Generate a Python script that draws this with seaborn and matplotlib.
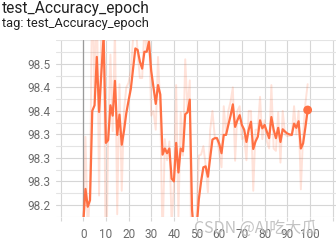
import numpy as np
import pandas as pd
import matplotlib
matplotlib.use("Agg")
import matplotlib.pyplot as plt
import seaborn as sns
from matplotlib.ticker import FixedLocator, FixedFormatter

# ---- data ----
epochs = list(range(100))
smoothed = [
    98.160, 98.234, 98.196, 98.210, 98.400, 98.412, 98.515, 98.398, 98.480, 98.560,
    98.332, 98.338, 98.412, 98.390, 98.464, 98.349, 98.392, 98.328, 98.358, 98.395,
    98.422, 98.447, 98.490, 98.533, 98.530, 98.505, 98.490, 98.526, 98.526, 98.547,
    98.485, 98.450, 98.415, 98.455, 98.435, 98.307, 98.320, 98.310, 98.320, 98.256,
    98.250, 98.332, 98.269, 98.320, 98.314, 98.393, 98.397, 98.424, 98.190, 98.130,
    98.150, 98.212, 98.250, 98.280, 98.282, 98.260, 98.300, 98.339, 98.342, 98.342,
    98.330, 98.310, 98.349, 98.349, 98.370, 98.390, 98.414, 98.366, 98.380, 98.391,
    98.370, 98.360, 98.334, 98.360, 98.377, 98.319, 98.335, 98.345, 98.380, 98.363,
    98.370, 98.356, 98.342, 98.387, 98.360, 98.342, 98.364, 98.334, 98.361, 98.356,
    98.352, 98.350, 98.349, 98.373, 98.364, 98.378, 98.320, 98.331, 98.365, 98.402,
]
raw = [
    98.160, 98.345, 98.139, 98.231, 98.685, 98.430, 98.670, 98.220, 98.600, 98.680,
    97.990, 98.347, 98.520, 98.357, 98.575, 98.180, 98.457, 98.230, 98.400, 98.450,
    98.460, 98.485, 98.555, 98.600, 98.525, 98.470, 98.470, 98.580, 98.526, 98.580,
    98.390, 98.400, 98.360, 98.515, 98.405, 98.115, 98.340, 98.295, 98.335, 98.160,
    98.240, 98.455, 98.175, 98.397, 98.305, 98.510, 98.403, 98.465, 97.840, 98.040,
    98.180, 98.305, 98.307, 98.325, 98.285, 98.227, 98.360, 98.400, 98.346, 98.342,
    98.312, 98.280, 98.410, 98.349, 98.400, 98.420, 98.450, 98.294, 98.400, 98.410,
    98.340, 98.345, 98.295, 98.400, 98.400, 98.230, 98.360, 98.360, 98.430, 98.340,
    98.380, 98.335, 98.320, 98.455, 98.320, 98.315, 98.397, 98.290, 98.400, 98.350,
    98.346, 98.347, 98.348, 98.410, 98.350, 98.400, 98.233, 98.350, 98.416, 98.457,
]
y_ticks = [98.20, 98.25, 98.30, 98.35, 98.40, 98.45, 98.50]
y_tick_labels = ["98.2", "98.3", "98.3", "98.3", "98.4", "98.4", "98.5"]
y_minor = [98.175, 98.225, 98.275, 98.325, 98.375, 98.425, 98.475, 98.525, 98.55]
x_ticks = [-10, 0, 10, 20, 30, 40, 50, 60, 70, 80, 90, 100, 110]
x_tick_labels = ["", "0", "10", "20", "30", "40", "50", "60", "70", "80", "90", "100", ""]
title = "test_Accuracy_epoch"
subtitle = "tag: test_Accuracy_epoch"
watermark = "CSDN @AI吃大瓜"

ORANGE = "#ff7043"
GRID = "#d6d6d6"
GRID_MINOR = "#e4e4e4"
TICKC = "#6b6b6b"

sns.set_theme(style="white")
plt.rcParams["font.family"] = ["Roboto", "DejaVu Sans"]

fig = plt.figure(figsize=(3.36, 2.44), dpi=100)
W, H = 336, 244
ax = fig.add_axes([56 / W, 1 - 217 / H, (336 - 56) / W, (217 - 40) / H])

df = pd.DataFrame({"epoch": epochs, "raw": raw, "smoothed": smoothed})

sns.lineplot(data=df, x="epoch", y="raw", ax=ax, color=ORANGE, alpha=0.2,
             linewidth=1.4, zorder=3)
sns.lineplot(data=df, x="epoch", y="smoothed", ax=ax, color=ORANGE,
             linewidth=1.6, zorder=4)
sns.scatterplot(x=df["epoch"].iloc[-1:], y=df["smoothed"].iloc[-1:], ax=ax,
                color=ORANGE, s=40, edgecolor="none", zorder=5)

ax.set_xlim(-12, 111.5)
ax.set_ylim(98.1742, 98.551)

ax.xaxis.set_major_locator(FixedLocator(x_ticks))
ax.xaxis.set_major_formatter(FixedFormatter(x_tick_labels))
ax.yaxis.set_major_locator(FixedLocator(y_ticks))
ax.yaxis.set_major_formatter(FixedFormatter(y_tick_labels))
ax.yaxis.set_minor_locator(FixedLocator(y_minor))

ax.grid(True, which="major", axis="both", color=GRID, linewidth=0.8, zorder=0)
ax.grid(True, which="minor", axis="y", color=GRID_MINOR, linewidth=0.8, zorder=0)
ax.set_axisbelow(True)
ax.axvline(0, color="#9a9a9a", linewidth=0.9, zorder=1)

for s in ax.spines.values():
    s.set_visible(False)

ax.tick_params(axis="x", which="major", length=3.2, width=0.8, color=GRID,
               direction="out", pad=4.5, labelsize=8.5, labelcolor=TICKC, bottom=True)
ax.tick_params(axis="y", which="both", length=0, pad=4, labelsize=8.5,
               labelcolor=TICKC)
ax.set_xlabel("")
ax.set_ylabel("")

fig.text(1.5 / W, 1 - 13.2 / H, title, fontsize=11.2, color="#212121",
         va="baseline", ha="left")
fig.text(2 / W, 1 - 26.6 / H, subtitle, fontsize=9.3, color="#212121",
         va="baseline", ha="left")
fig.text(256 / W, 1 - 233 / H, watermark, fontsize=11.5, color="#bdbdbd",
         alpha=0.9, va="baseline", ha="center",
         family=["Noto Sans CJK SC", "DejaVu Sans"], zorder=10)

fig.savefig("out.png", dpi=100, facecolor="white")
